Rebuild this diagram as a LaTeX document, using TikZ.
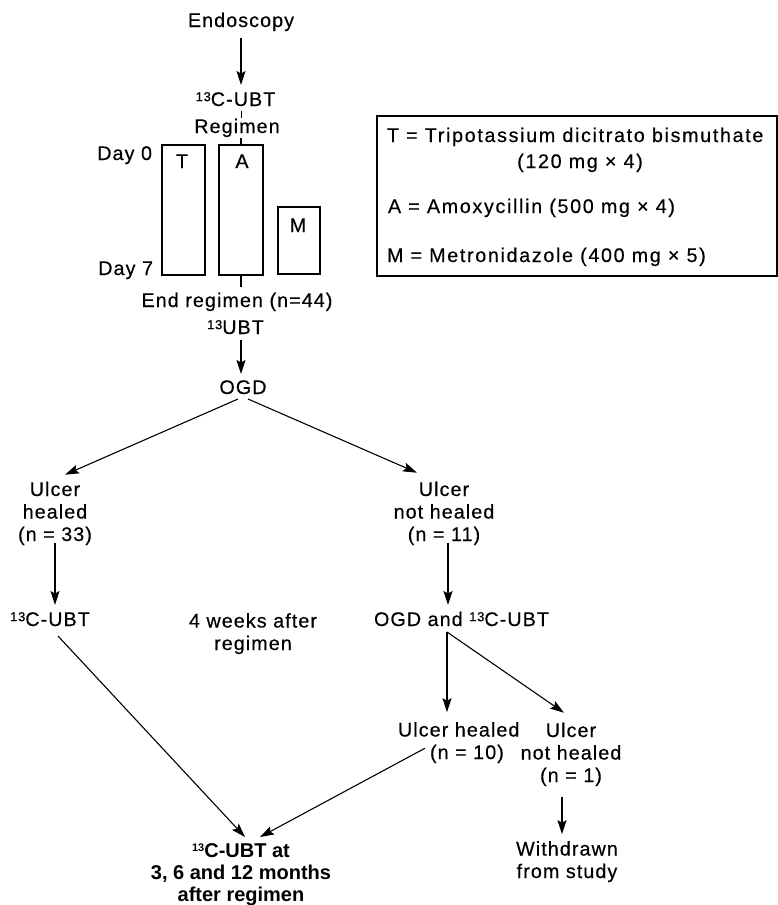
\documentclass[tikz,border=0pt]{standalone}
\usepackage{fontspec}
\setmainfont{Liberation Sans}[LetterSpace=5.5, FakeBold=0.4]
\newfontfamily\legendfont{Liberation Sans}[LetterSpace=8.5, FakeBold=0.4]
\newfontfamily\finalfont{Liberation Sans}
\newcommand\isotope[2][13pt]{\raisebox{#2}{\fontsize{#1}{#1}\selectfont 13}}
\usetikzlibrary{arrows.meta}
\begin{document}
\begin{tikzpicture}[x=1pt,y=-1pt,
  every node/.style={inner sep=0pt, outer sep=0pt},
  txt/.style={font=\fontsize{19.7pt}{22.5pt}\selectfont, anchor=base, align=center},
  one/.style={txt, text height=15pt, text depth=5pt},
  lgd/.style={one, font=\fontsize{19.7pt}{22.5pt}\legendfont},
  arr/.style={-{Stealth[length=14pt,width=9pt,inset=2.5pt]}, line width=1.1pt},
  ln/.style={line width=1.1pt},
  drugbox/.style={draw, line width=1.6pt}
]
\useasboundingbox (0,0) rectangle (778,905);

% top part
\node[one] (endo) at (241,27) {Endoscopy};
\node[one] (ubt1) at (235.5,106) {\isotope{4.8pt}C-UBT};
\node[one] (regimen) at (237,133) {Regimen};
\node[one, anchor=base east] (day0) at (152,160) {Day 0};
\node[one, anchor=base east] (day7) at (153,275) {Day 7};

\node[drugbox, minimum width=43pt, minimum height=130pt] (boxT) at (183.5,210) {};
\node[drugbox, minimum width=44pt, minimum height=130pt] (boxA) at (241,210) {};
\node[drugbox, minimum width=42pt, minimum height=67pt] (boxM) at (299,240.5) {};
\node[one] (labT) at (182,168) {T};
\node[one] (labA) at (242,168) {A};
\node[one] (labM) at (298,232) {M};

\node[one] (endreg) at (237,307) {End regimen (n=44)};
\node[one] (ubt2) at (235.5,334) {\isotope{4.8pt}UBT};

% legend
\node[draw, line width=1.5pt, minimum width=400pt, minimum height=160pt] (legend) at (577,196) {};
\node[lgd, anchor=base west] (lgT) at (387,142) {T = Tripotassium dicitrato bismuthate};
\node[lgd] (lgT2) at (580,168) {(120 mg × 4)};
\node[lgd, anchor=base west] (lgA) at (388,213) {A = Amoxycillin (500 mg × 4)};
\node[lgd, anchor=base west] (lgM) at (387,262) {M = Metronidazole (400 mg × 5)};

% lower part (multi-line nodes placed at the baseline of their last line)
\node[one] (ogd) at (243,394) {OGD};
\node[txt] (healed) at (55,541) {Ulcer\\healed\\(n = 33)};
\node[txt] (nothealed) at (444,541) {Ulcer\\not healed\\(n = 11)};
\node[one] (ubtL) at (50,626) {\isotope{4.8pt}C-UBT};
\node[txt] (weeks) at (253,650) {4 weeks after\\regimen};
\node[one] (ogdubt) at (461.5,626) {OGD and \isotope{4.8pt}C-UBT};
\node[txt, anchor=base west, align=left] (healed10) at (398,759) {Ulcer healed\\\hspace*{32pt}(n = 10)};
\node[txt] (nh1) at (571,782) {Ulcer\\not healed\\(n = 1)};
\node[txt] (withdrawn) at (567,878) {Withdrawn\\from study};
\node[txt, font=\fontsize{20pt}{22pt}\finalfont\bfseries] (final) at (241,901) {\isotope[11pt]{6pt}C-UBT at\\3, 6 and 12 months\\after regimen};

% connectors
\draw[arr, shorten <=6pt, shorten >=6pt] (endo.south) -- (endo.south |- ubt1.north);
\draw[line width=0.6pt] (boxA.north |- ubt1.south) -- (boxA.north |- regimen.north);
\draw[ln] (boxA.north |- regimen.south) -- (boxA.north);
\draw[ln, shorten >=5pt] (boxA.south) -- (boxA.south |- endreg.north);
\draw[arr, shorten <=1pt, shorten >=5pt] (boxA.south |- ubt2.south) -- (boxA.south |- ogd.north);
\draw[arr] ([xshift=-5pt]ogd.south) -- ([xshift=10pt,yshift=7pt]healed.north);
\draw[arr] ([xshift=5pt]ogd.south) -- ([xshift=-27pt,yshift=9pt]nothealed.north);
\draw[arr, shorten <=-2pt, shorten >=6pt] (healed.south) -- (healed.south |- ubtL.north);
\draw[arr, shorten <=-2pt, shorten >=6pt] ([xshift=4pt]nothealed.south) -- ([xshift=-13.5pt]ogdubt.north);
\coordinate (brk) at ([xshift=-14.5pt,yshift=-1pt]ogdubt.south);
\draw[arr, shorten >=10pt] (brk) -- (brk |- healed10.north);
\draw[arr] (brk) -- ([xshift=-7pt,yshift=10pt]nh1.north);
\draw[arr, shorten <=11pt, shorten >=7pt] ([xshift=-9pt]nh1.south) -- ([xshift=-5pt]withdrawn.north);
\draw[arr] ([xshift=8pt,yshift=-5pt]ubtL.south) -- ([xshift=4pt,yshift=6pt]final.north);
\draw[arr] ([xshift=27pt,yshift=-26pt]healed10.north west) -- ([xshift=19pt,yshift=6pt]final.north);
\end{tikzpicture}
\end{document}
